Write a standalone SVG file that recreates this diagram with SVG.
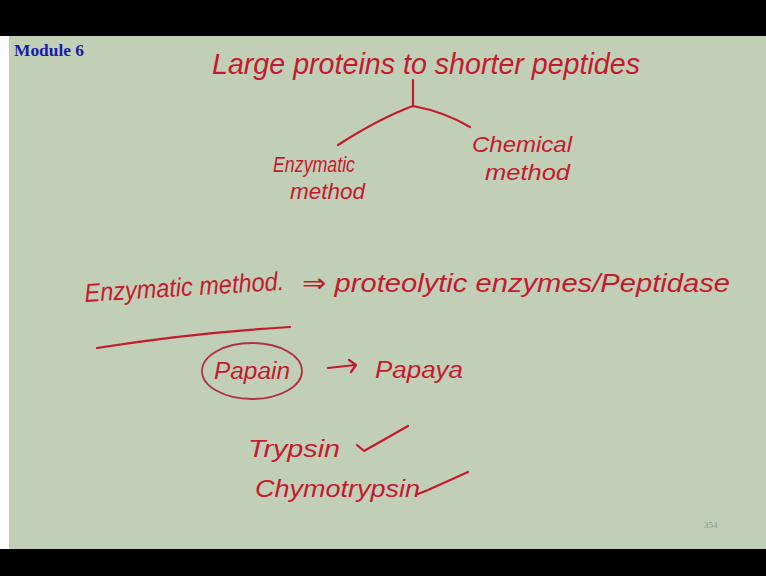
<svg xmlns="http://www.w3.org/2000/svg" width="766" height="576" viewBox="0 0 766 576">
<style>
.ink{font-family:"Liberation Sans","DejaVu Sans",sans-serif;font-style:italic;fill:#c41a30}
.st{fill:none;stroke:#c41a30;stroke-width:2.2;stroke-linecap:round;stroke-linejoin:round}
</style>
<rect x="0" y="0" width="766" height="576" fill="#000"/>
<rect x="0" y="36" width="766" height="513" fill="#fdfdfd"/>
<rect x="9" y="36" width="757" height="513" fill="#c1cfb6"/>
<text x="14" y="56" font-family="Liberation Serif,serif" font-weight="bold" font-size="16" fill="#1a1aa8" textLength="70" lengthAdjust="spacingAndGlyphs">Module 6</text>
<g id="title"><text class="ink" x="212" y="74" font-size="30" textLength="428" lengthAdjust="spacingAndGlyphs">Large proteins to shorter peptides</text></g>
<g id="enz1"><text class="ink" x="273" y="172" font-size="22" textLength="82" lengthAdjust="spacingAndGlyphs">Enzymatic</text><text class="ink" x="290" y="199" font-size="22" textLength="75" lengthAdjust="spacingAndGlyphs">method</text></g>
<g id="chem"><text class="ink" x="472" y="152" font-size="22" textLength="100" lengthAdjust="spacingAndGlyphs">Chemical</text><text class="ink" x="485" y="180" font-size="22" textLength="85" lengthAdjust="spacingAndGlyphs">method</text></g>
<g id="connectors">
<path class="st" d="M413 80 L413 106 M413 106 Q380 118 338 145 M413 106 Q445 112 470 127"/>
<path class="st" d="M97 348 Q190 333 290 327"/>
<path class="st" d="M328 368 L355 365 M349 360 L356 365 L351 372"/>
<path class="st" d="M357 445 L364 451 L408 426"/>
<path class="st" d="M418 494 L428 490 L468 472"/>
</g>
<g id="enz2"><text class="ink" x="85" y="302" font-size="26" textLength="200" lengthAdjust="spacingAndGlyphs" transform="rotate(-3.5 85 302)">Enzymatic method.</text></g>
<g id="prot"><text class="ink" x="302" y="292" font-size="26" textLength="428" lengthAdjust="spacingAndGlyphs">⇒ proteolytic enzymes/Peptidase</text></g>
<g id="papain"><ellipse cx="252" cy="371" rx="50" ry="28" fill="none" stroke="#b03040" stroke-width="1.8"/><text class="ink" x="214" y="379" font-size="23" textLength="76" lengthAdjust="spacingAndGlyphs">Papain</text></g>
<g id="papaya"><text class="ink" x="375" y="378" font-size="23" textLength="88" lengthAdjust="spacingAndGlyphs">Papaya</text></g>
<g id="trypsin"><text class="ink" x="248" y="457" font-size="24" textLength="92" lengthAdjust="spacingAndGlyphs">Trypsin</text></g>
<g id="chymo"><text class="ink" x="255" y="497" font-size="24" textLength="165" lengthAdjust="spacingAndGlyphs">Chymotrypsin</text></g>
<text x="704" y="528" font-family="Liberation Serif,serif" font-size="9" fill="#8a9a86">354</text>
</svg>
